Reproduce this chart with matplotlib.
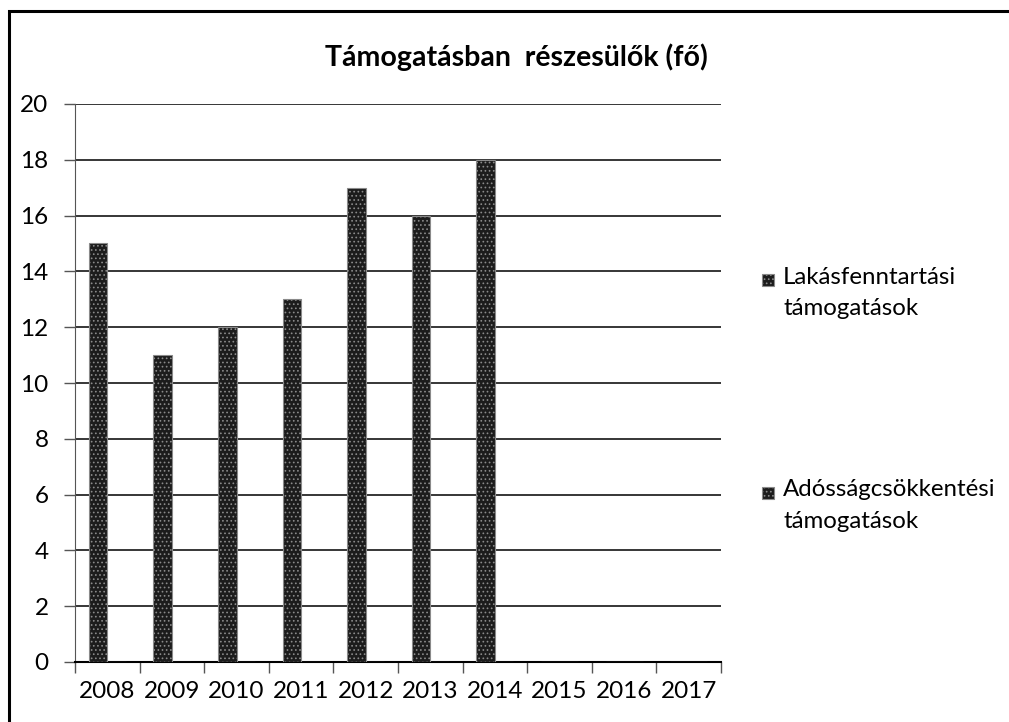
import matplotlib
matplotlib.use("Agg")
import matplotlib.pyplot as plt
import numpy as np
from matplotlib.patches import Rectangle

years = ["2008", "2009", "2010", "2011", "2012", "2013", "2014", "2015", "2016", "2017"]
lakas = [15, 11, 12, 13, 17, 16, 18, 0, 0, 0]
adossag = [0, 0, 0, 0, 0, 0, 0, 0, 0, 0]
series_names = ["Lakásfenntartási\ntámogatások", "Adósságcsökkentési\ntámogatások"]
title = "Támogatásban  részesülők (fő)"
yticks = list(range(0, 21, 2))

plt.rcParams['font.family'] = ['Lato', 'DejaVu Sans']
plt.rcParams['hatch.linewidth'] = 0.7

FS = 17.5
LFS = 17.3
fig = plt.figure(figsize=(10.09, 7.22), dpi=100)
ax = fig.add_axes([75/1009, 1-662/722, (721-75)/1009, (662-104)/722])

x = np.arange(len(years))
w = 1/3.5
b1 = ax.bar(x - w/2, lakas, width=w, color='#1c1c1c', edgecolor='#8a8a8a',
            hatch='....', linewidth=0.8, zorder=3)
b2 = ax.bar(x + w/2, adossag, width=w, color='#1c1c1c', edgecolor='#8a8a8a',
            hatch='....', linewidth=0.8, zorder=3)

ax.set_xlim(-0.5, len(years) - 0.5)
ax.set_ylim(0, 20)
ax.set_yticks(yticks)
ax.set_yticklabels([str(v) for v in yticks], fontsize=FS)
ax.yaxis.grid(True, color='black', linewidth=1.1)
ax.set_axisbelow(True)

ax.set_xticks(x)
ax.set_xticklabels(years, fontsize=FS)
ax.set_xticks(np.arange(-0.5, len(years)), minor=True)
ax.tick_params(axis='x', which='major', length=0, pad=14)
ax.tick_params(axis='x', which='minor', length=8, width=1, color='#555555')
ax.tick_params(axis='y', length=8, width=1, color='#555555', pad=11)

for s in ['top', 'right']:
    ax.spines[s].set_visible(False)
ax.spines['left'].set_color('#555555')
ax.spines['bottom'].set_color('black')
ax.spines['bottom'].set_linewidth(1.5)

fig.text(516/1009, 1-57/722, title, ha='center', va='center', fontsize=20.5,
         fontweight='bold')

# legend (manual: marker aligned with the first line of each label)
leg_rows = [279.5, 492.5]
for name, yc in zip(series_names, leg_rows):
    fig.patches.append(Rectangle((762/1009, 1-(yc+6)/722), 12/1009, 12/722,
                                 transform=fig.transFigure, facecolor='#1c1c1c',
                                 edgecolor='#8a8a8a', hatch='....', linewidth=0.8))
    fig.text(783/1009, 1-(yc-13)/722, name, ha='left', va='top', fontsize=LFS,
             linespacing=1.62)

# figure border (left and top visible)
fig.patches.append(Rectangle((9/1009, -0.1), 1.2, 1 - 11/722 + 0.1,
                             transform=fig.transFigure, fill=False,
                             edgecolor='black', linewidth=2.2))

fig.savefig("out.png", dpi=100)
